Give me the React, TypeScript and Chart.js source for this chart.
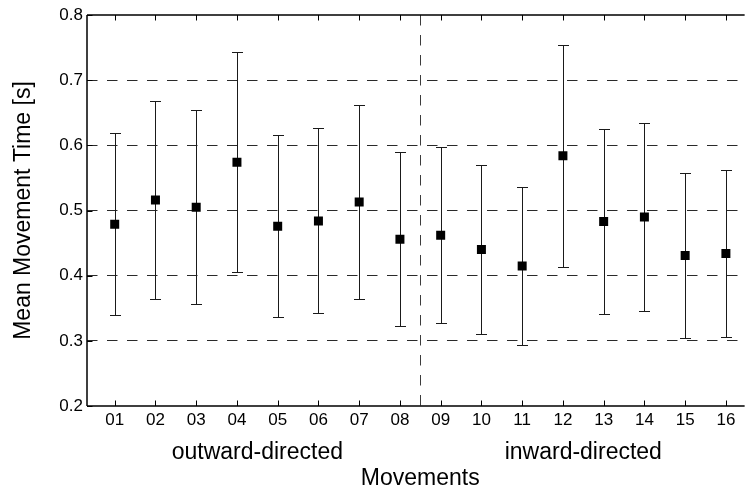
import React, { useEffect, useRef } from 'react';
import { Chart, registerables } from 'chart.js';

Chart.register(...registerables);

// Movement identifiers along the horizontal axis
const movementLabels = ['01', '02', '03', '04', '05', '06', '07', '08', '09', '10', '11', '12', '13', '14', '15', '16'];
// Mean movement time per movement [s]
const meanTimes = [0.479, 0.516, 0.505, 0.574, 0.476, 0.484, 0.513, 0.456, 0.462, 0.440, 0.415, 0.584, 0.483, 0.490, 0.431, 0.434];
// Standard deviation per movement [s]
const sdTimes = [0.140, 0.152, 0.149, 0.169, 0.140, 0.142, 0.149, 0.134, 0.135, 0.130, 0.121, 0.170, 0.142, 0.144, 0.127, 0.128];
// Movement groups: name, first and last movement of each group
const groupNames = ['outward-directed', 'inward-directed'];
const groupFirst = [1, 9];
const groupLast = [8, 16];

const xTitle = 'Movements';
const yTitle = 'Mean Movement Time [s]';
const dividerAt = 8.5;

const FONT = "'Liberation Sans', Arial, Helvetica, sans-serif";
const DASH = [10.5, 9.5];

const decorPlugin = {
  id: 'movementDecor',
  beforeDatasetsDraw(chart: any) {
    const { ctx, chartArea: a, scales } = chart;
    const x = scales.x;
    const y = scales.y;
    ctx.save();

    // dashed divider between the two movement groups
    const dx = Math.round(x.getPixelForValue(dividerAt)) + 0.5;
    ctx.strokeStyle = '#3c3c3c';
    ctx.lineWidth = 1;
    ctx.setLineDash(DASH);
    ctx.beginPath();
    ctx.moveTo(dx, a.top);
    ctx.lineTo(dx, a.bottom);
    ctx.stroke();
    ctx.setLineDash([]);

    // error bars (mean ± SD)
    ctx.strokeStyle = '#1a1a1a';
    ctx.lineWidth = 1;
    meanTimes.forEach((m, i) => {
      const px = Math.round(x.getPixelForValue(i + 1)) + 0.5;
      const pTop = Math.round(y.getPixelForValue(m + sdTimes[i])) + 0.5;
      const pBot = Math.round(y.getPixelForValue(m - sdTimes[i])) + 0.5;
      const cap = 5.5;
      ctx.beginPath();
      ctx.moveTo(px, pTop);
      ctx.lineTo(px, pBot);
      ctx.moveTo(px - cap, pTop);
      ctx.lineTo(px + cap, pTop);
      ctx.moveTo(px - cap, pBot);
      ctx.lineTo(px + cap, pBot);
      ctx.stroke();
    });

    // axes box (left, top, bottom) with inward tick marks
    ctx.strokeStyle = '#000';
    ctx.lineWidth = 1.5;
    ctx.beginPath();
    ctx.moveTo(a.left, a.top);
    ctx.lineTo(a.right, a.top);
    ctx.moveTo(a.left, a.top);
    ctx.lineTo(a.left, a.bottom);
    ctx.moveTo(a.left, a.bottom);
    ctx.lineTo(a.right, a.bottom);
    ctx.stroke();

    ctx.lineWidth = 1;
    const tl = 5.5;
    ctx.beginPath();
    x.ticks.forEach((t: any) => {
      const px = Math.round(x.getPixelForValue(t.value)) + 0.5;
      ctx.moveTo(px, a.top);
      ctx.lineTo(px, a.top + tl);
      ctx.moveTo(px, a.bottom);
      ctx.lineTo(px, a.bottom - tl);
    });
    y.ticks.forEach((t: any) => {
      const py = Math.round(y.getPixelForValue(t.value)) + 0.5;
      ctx.moveTo(a.left, py);
      ctx.lineTo(a.left + tl, py);
    });
    ctx.stroke();
    ctx.restore();
  },
  afterDraw(chart: any) {
    const { ctx, chartArea: a, scales } = chart;
    const x = scales.x;
    ctx.save();
    ctx.fillStyle = '#000';
    ctx.font = `23px ${FONT}`;
    ctx.textAlign = 'center';
    ctx.textBaseline = 'alphabetic';
    groupNames.forEach((name, g) => {
      const cx = x.getPixelForValue((groupFirst[g] + groupLast[g]) / 2);
      ctx.fillText(name, cx, a.bottom + 53);
    });
    const mid = x.getPixelForValue((groupFirst[0] + groupLast[groupLast.length - 1]) / 2);
    ctx.fillText(xTitle, mid, a.bottom + 79);
    ctx.restore();
  },
};

export default function App() {
  const canvasRef = useRef<HTMLCanvasElement | null>(null);

  useEffect(() => {
    document.body.style.margin = '0';
    const canvas = canvasRef.current;
    if (!canvas) return;

    const chart = new Chart(canvas, {
      type: 'scatter',
      data: {
        datasets: [
          {
            label: 'Mean movement time',
            data: meanTimes.map((m, i) => ({ x: i + 1, y: m })),
            pointStyle: 'rect',
            pointRadius: 6.36,
            pointHoverRadius: 6.36,
            backgroundColor: '#000',
            borderColor: '#000',
            borderWidth: 0,
          },
        ],
      },
      options: {
        responsive: false,
        animation: false,
        events: [],
        layout: { padding: { top: 15, left: 0, right: 0, bottom: 0 } },
        plugins: {
          legend: { display: false },
          tooltip: { enabled: false },
        },
        scales: {
          x: {
            type: 'linear',
            min: 0.32,
            max: 16.46,
            afterFit: (s: any) => {
              s.height = 82;
            },
            afterBuildTicks: (axis: any) => {
              axis.ticks = movementLabels.map((_, i) => ({ value: i + 1 }));
            },
            ticks: {
              autoSkip: false,
              maxRotation: 0,
              padding: 4,
              color: '#000',
              font: { family: FONT, size: 17 },
              callback: (v: any) => movementLabels[Math.round(Number(v)) - 1],
            },
            grid: { display: false, drawTicks: false },
            border: { display: false },
          },
          y: {
            min: 0.2,
            max: 0.8,
            afterFit: (s: any) => {
              s.width = 87;
            },
            ticks: {
              stepSize: 0.1,
              padding: 4,
              color: '#000',
              font: { family: FONT, size: 17 },
              callback: (v: any) => Number(v).toFixed(1),
            },
            grid: {
              drawTicks: false,
              lineWidth: 1,
              color: (c: any) => {
                const v = c.tick ? c.tick.value : 0;
                return Math.abs(v - 0.2) < 1e-6 || Math.abs(v - 0.8) < 1e-6 ? 'rgba(0,0,0,0)' : '#2a2a2a';
              },
            },
            border: { display: false, dash: DASH },
            title: {
              display: true,
              text: yTitle,
              color: '#000',
              font: { family: FONT, size: 23 },
              padding: { top: 10, bottom: 0 },
            },
          },
        },
      },
      plugins: [decorPlugin],
    });

    return () => chart.destroy();
  }, []);

  return (
    <div style={{ width: 751, height: 488 }}>
      <canvas ref={canvasRef} width={751} height={488} style={{ display: 'block' }} />
    </div>
  );
}
